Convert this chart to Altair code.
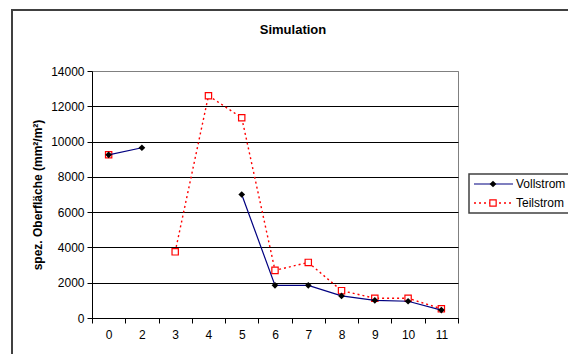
import altair as alt
import pandas as pd

categories = ["0", "2", "3", "4", "5", "6", "7", "8", "9", "10", "11"]
vollstrom = [9250, 9650, None, None, 7000, 1850, 1850, 1250, 1000, 950, 450]
teilstrom = [9250, None, 3750, 12600, 11350, 2700, 3150, 1550, 1120, 1120, 520]
y_ticks = [0, 2000, 4000, 6000, 8000, 10000, 12000, 14000]

idx = list(range(len(categories)))
df = pd.DataFrame({"idx": idx, "cat": categories,
                   "Vollstrom": vollstrom, "Teilstrom": teilstrom})

FONT = "Liberation Sans"
label_expr = "[" + ",".join(f"'{c}'" for c in categories) + "][datum.value]"

xscale = alt.Scale(domain=[-0.5, len(categories) - 0.5], nice=False, zero=False)
yscale = alt.Scale(domain=[0, 14000], nice=False)

x_lab = alt.X("idx:Q", scale=xscale, axis=alt.Axis(
    orient="bottom", values=idx, labelExpr=label_expr, ticks=False,
    domain=True, domainColor="black", domainWidth=1, grid=False,
    labelFont=FONT, labelFontSize=12, labelColor="black", labelPadding=11,
    title=None))
x_tick = alt.X("idx:Q", scale=xscale, axis=alt.Axis(
    orient="bottom", values=[i - 0.5 for i in range(len(categories) + 1)],
    labels=False, ticks=True, tickSize=5, tickColor="black", domain=False,
    grid=False, title=None))
x_none = alt.X("idx:Q", scale=xscale, axis=None)

y_axis = alt.Y("Teilstrom:Q", scale=yscale, axis=alt.Axis(
    orient="left", values=y_ticks, format="d", grid=True,
    gridColor={"condition": {"test": "datum.value == 14000", "value": "#808080"}, "value": "black"},
    gridWidth=1, domainColor="black", tickColor="black", tickSize=5,
    labelFont=FONT, labelFontSize=12, labelColor="black", labelPadding=3,
    title="spez. Oberfläche (mm²/m²)", titleFont=FONT, titleFontSize=12,
    titleFontWeight="bold", titleColor="black", titlePadding=6))

base = alt.Chart(df)

blank = alt.Data(values=[{}])

border = alt.Chart(blank).mark_rect(
    fill=None, stroke="#404040", strokeWidth=2, clip=False).encode(
    x=alt.value(-80), x2=alt.value(520), y=alt.value(-61), y2=alt.value(320))

title = alt.Chart(blank).mark_text(
    text="Simulation", align="center", baseline="middle", font=FONT,
    fontSize=13, fontWeight="bold", color="black").encode(
    x=alt.value(201), y=alt.value(-41))

teil_line = base.mark_line(color="red", strokeDash=[2, 3], strokeWidth=1.4,
                           invalid="break-paths-show-domains").encode(
    x=x_lab, y=y_axis)
teil_pts = base.transform_filter("isValid(datum.Teilstrom)").mark_point(
    shape="square", stroke="red", fill="white", filled=False, fillOpacity=1,
    strokeWidth=1.2, size=40, opacity=1).encode(
    x=x_none, y=alt.Y("Teilstrom:Q", scale=yscale, axis=None))
voll_line = base.mark_line(color="#000080", strokeWidth=1.2,
                           invalid="break-paths-show-domains").encode(
    x=x_tick, y=alt.Y("Vollstrom:Q", scale=yscale, axis=None))
voll_pts = base.transform_filter("isValid(datum.Vollstrom)").mark_point(
    shape="diamond", filled=True, color="black", size=45, opacity=1).encode(
    x=x_none, y=alt.Y("Vollstrom:Q", scale=yscale, axis=None))

# legend
leg_box = alt.Chart(blank).mark_rect(
    fill="white", stroke="#404040", strokeWidth=1.5, clip=False).encode(
    x=alt.value(377), x2=alt.value(520), y=alt.value(103), y2=alt.value(142))
leg_voll_line = alt.Chart(blank).mark_rule(color="#000080", strokeWidth=1.2).encode(
    x=alt.value(382), x2=alt.value(421), y=alt.value(113))
leg_voll_pt = alt.Chart(blank).mark_point(
    shape="diamond", filled=True, color="black", size=45, opacity=1).encode(
    x=alt.value(401), y=alt.value(113))
leg_teil_line = alt.Chart(blank).mark_rule(color="red", strokeDash=[2, 3], strokeWidth=1.4).encode(
    x=alt.value(382), x2=alt.value(421), y=alt.value(132))
leg_teil_pt = alt.Chart(blank).mark_point(
    shape="square", stroke="red", fill="white", filled=False, fillOpacity=1,
    strokeWidth=1.2, size=40, opacity=1).encode(
    x=alt.value(401), y=alt.value(132))
leg_voll_txt = alt.Chart(blank).mark_text(
    text="Vollstrom", align="left", baseline="middle", font=FONT, fontSize=12,
    color="black").encode(x=alt.value(424), y=alt.value(113))
leg_teil_txt = alt.Chart(blank).mark_text(
    text="Teilstrom", align="left", baseline="middle", font=FONT, fontSize=12,
    color="black").encode(x=alt.value(424), y=alt.value(132))

chart = alt.layer(
    border, title, teil_line, teil_pts, voll_line, voll_pts,
    leg_box, leg_voll_line, leg_voll_pt, leg_teil_line, leg_teil_pt,
    leg_voll_txt, leg_teil_txt,
).resolve_axis(x="independent", y="independent").properties(
    width=366, height=247,
    autosize=alt.AutoSizeParams(type="none"),
    padding={"left": 92, "top": 71, "right": 110, "bottom": 36},
    background="white",
).configure_view(stroke="#808080", strokeWidth=1)

chart.save("out.html", embed_options={"renderer": "svg", "actions": False})
